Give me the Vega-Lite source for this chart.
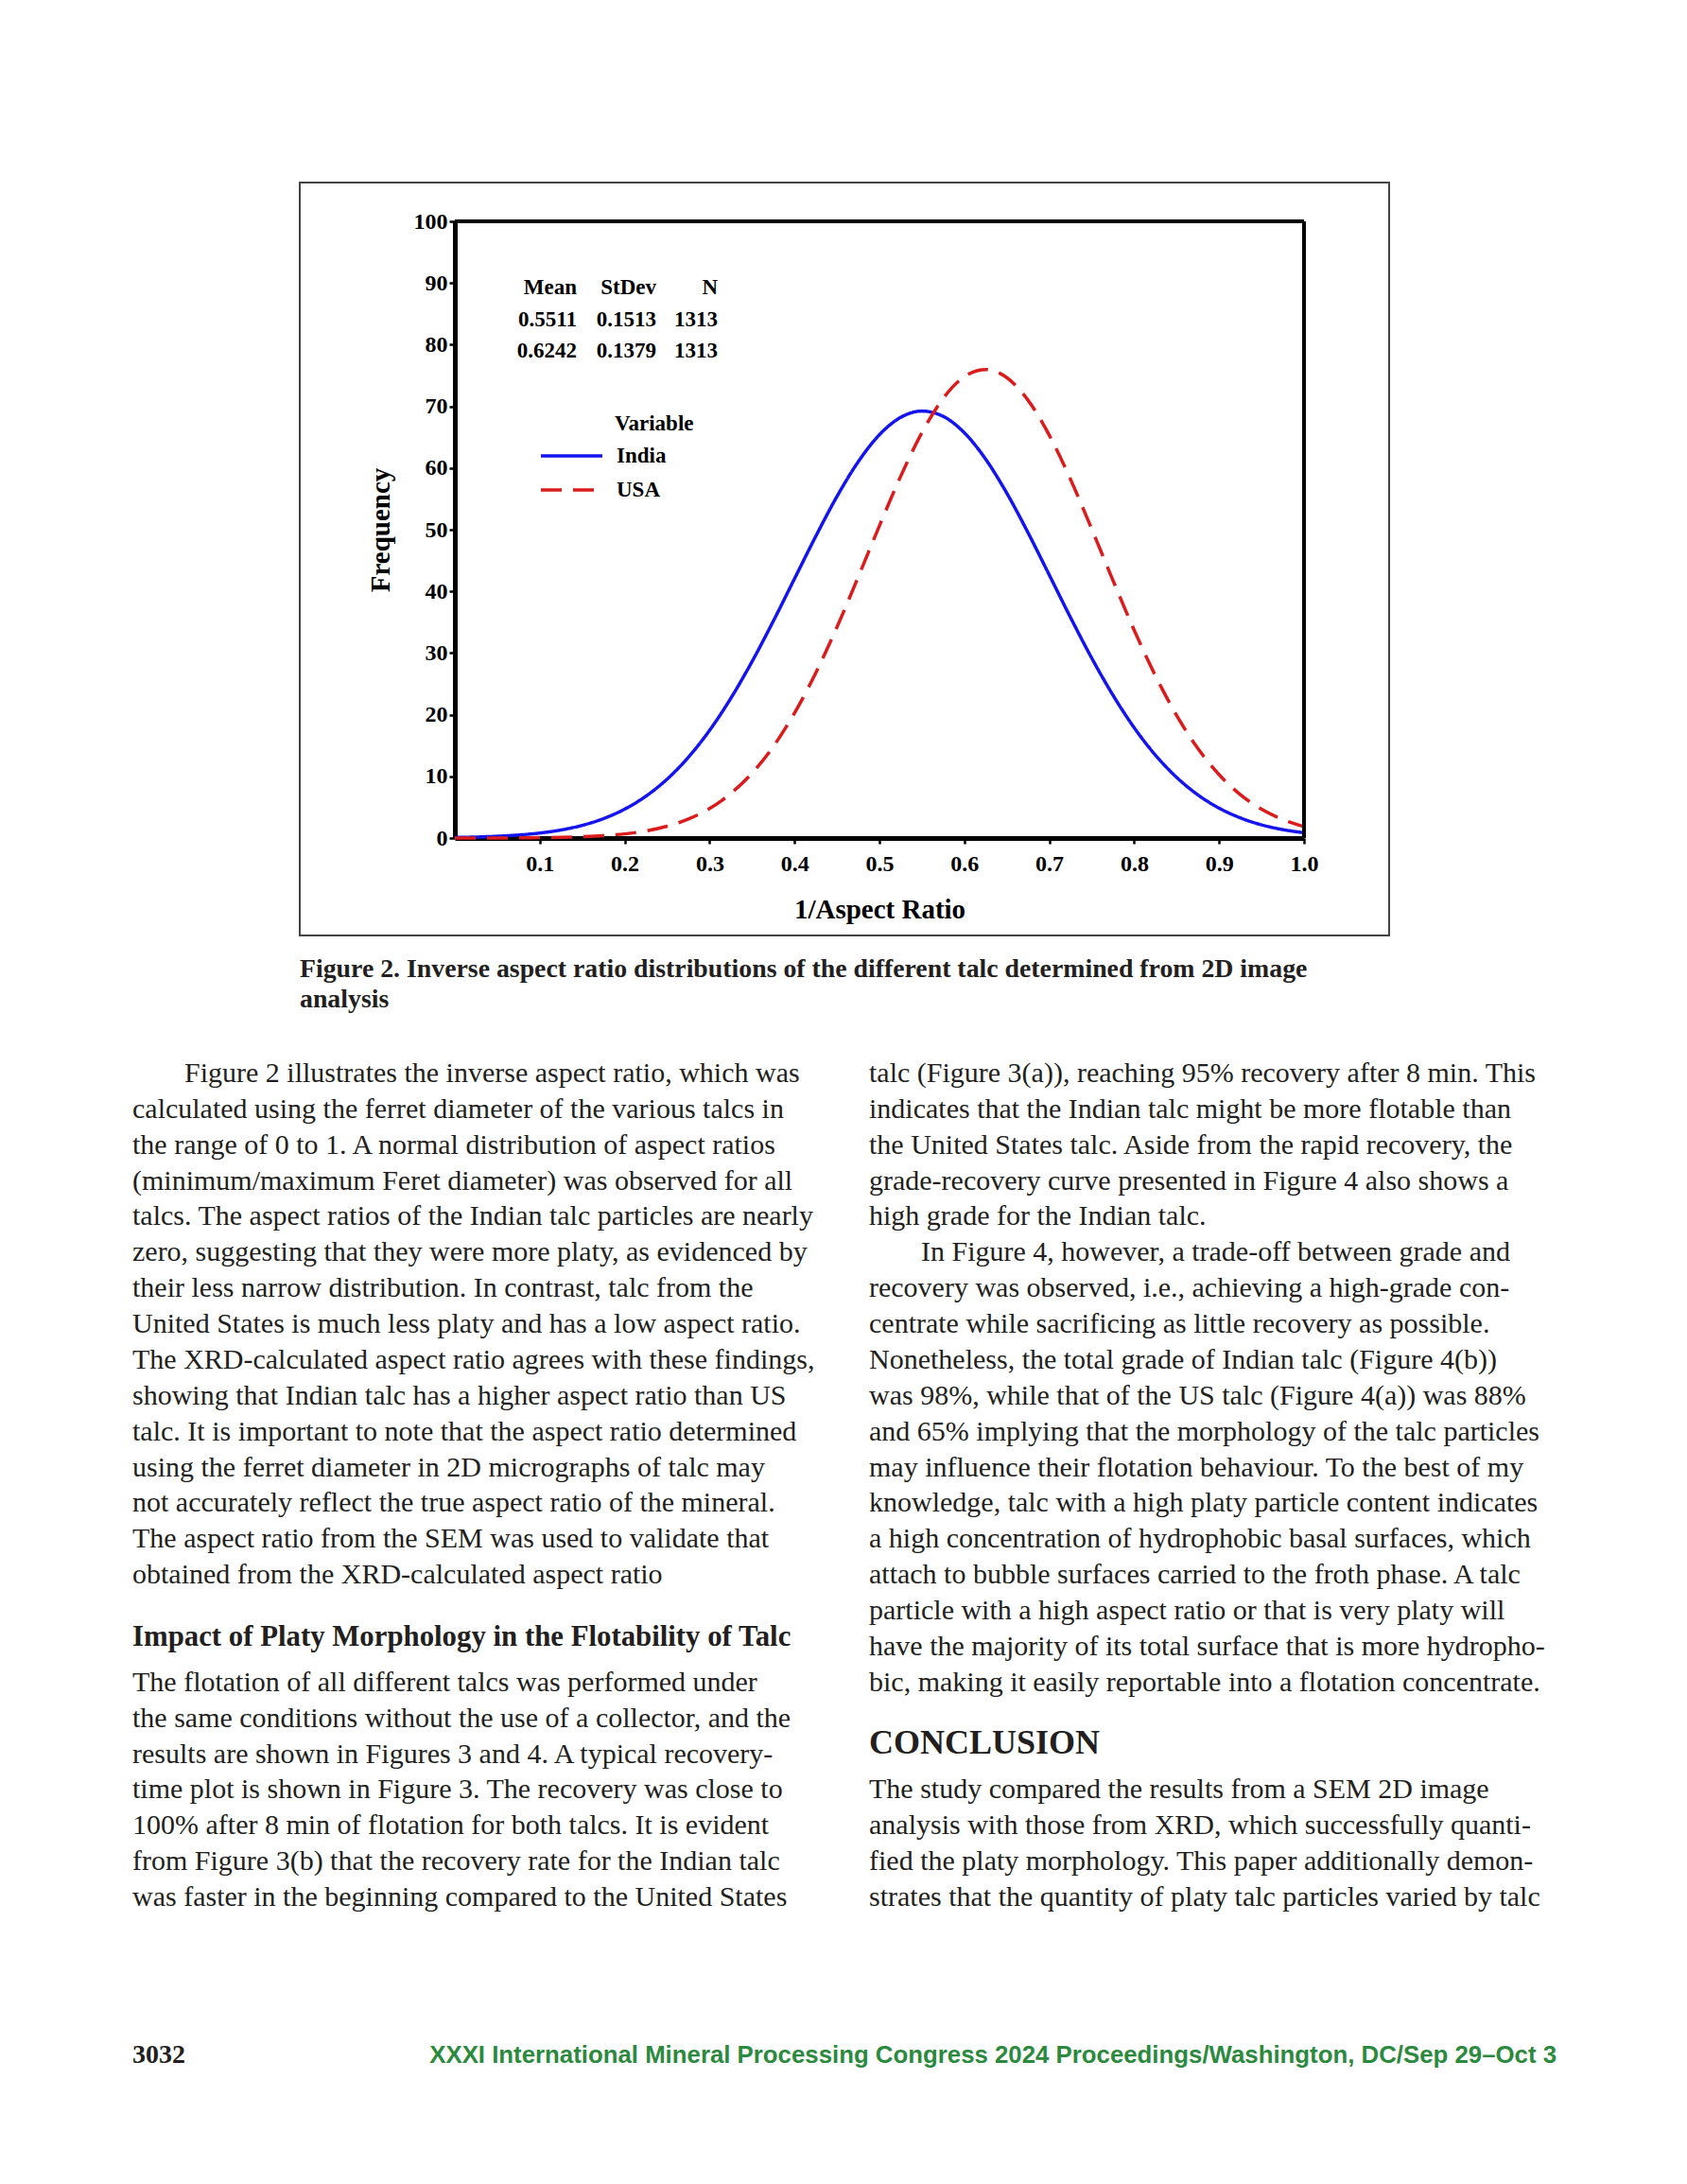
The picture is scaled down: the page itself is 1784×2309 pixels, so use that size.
{
  "$schema": "https://vega.github.io/schema/vega-lite/v6.json",
  "padding": {"left": 140, "top": 192, "right": 138, "bottom": 81},
  "background": "white",
  "config": {"view": {"stroke": null}, "font": "Liberation Serif"},
  "spacing": 97,
  "center": true,
  "bounds": "flush",
  "datasets": {
    "curves": [
      {"ratio": 0, "frequency": 0.09, "Variable": "India"},
      {"ratio": 0.025, "frequency": 0.16, "Variable": "India"},
      {"ratio": 0.05, "frequency": 0.29, "Variable": "India"},
      {"ratio": 0.075, "frequency": 0.49, "Variable": "India"},
      {"ratio": 0.1, "frequency": 0.81, "Variable": "India"},
      {"ratio": 0.125, "frequency": 1.31, "Variable": "India"},
      {"ratio": 0.15, "frequency": 2.06, "Variable": "India"},
      {"ratio": 0.175, "frequency": 3.15, "Variable": "India"},
      {"ratio": 0.2, "frequency": 4.69, "Variable": "India"},
      {"ratio": 0.225, "frequency": 6.79, "Variable": "India"},
      {"ratio": 0.25, "frequency": 9.56, "Variable": "India"},
      {"ratio": 0.275, "frequency": 13.1, "Variable": "India"},
      {"ratio": 0.3, "frequency": 17.47, "Variable": "India"},
      {"ratio": 0.325, "frequency": 22.67, "Variable": "India"},
      {"ratio": 0.35, "frequency": 28.62, "Variable": "India"},
      {"ratio": 0.375, "frequency": 35.17, "Variable": "India"},
      {"ratio": 0.4, "frequency": 42.05, "Variable": "India"},
      {"ratio": 0.425, "frequency": 48.92, "Variable": "India"},
      {"ratio": 0.45, "frequency": 55.39, "Variable": "India"},
      {"ratio": 0.475, "frequency": 61.01, "Variable": "India"},
      {"ratio": 0.5, "frequency": 65.4, "Variable": "India"},
      {"ratio": 0.525, "frequency": 68.21, "Variable": "India"},
      {"ratio": 0.55, "frequency": 69.23, "Variable": "India"},
      {"ratio": 0.575, "frequency": 68.38, "Variable": "India"},
      {"ratio": 0.6, "frequency": 65.71, "Variable": "India"},
      {"ratio": 0.625, "frequency": 61.45, "Variable": "India"},
      {"ratio": 0.65, "frequency": 55.92, "Variable": "India"},
      {"ratio": 0.675, "frequency": 49.51, "Variable": "India"},
      {"ratio": 0.7, "frequency": 42.66, "Variable": "India"},
      {"ratio": 0.725, "frequency": 35.77, "Variable": "India"},
      {"ratio": 0.75, "frequency": 29.18, "Variable": "India"},
      {"ratio": 0.775, "frequency": 23.17, "Variable": "India"},
      {"ratio": 0.8, "frequency": 17.89, "Variable": "India"},
      {"ratio": 0.825, "frequency": 13.45, "Variable": "India"},
      {"ratio": 0.85, "frequency": 9.84, "Variable": "India"},
      {"ratio": 0.875, "frequency": 7.0, "Variable": "India"},
      {"ratio": 0.9, "frequency": 4.85, "Variable": "India"},
      {"ratio": 0.925, "frequency": 3.27, "Variable": "India"},
      {"ratio": 0.95, "frequency": 2.14, "Variable": "India"},
      {"ratio": 0.975, "frequency": 1.37, "Variable": "India"},
      {"ratio": 1.0, "frequency": 0.85, "Variable": "India"},
      {"ratio": 0, "frequency": 0.0, "Variable": "USA"},
      {"ratio": 0.025, "frequency": 0.01, "Variable": "USA"},
      {"ratio": 0.05, "frequency": 0.01, "Variable": "USA"},
      {"ratio": 0.075, "frequency": 0.03, "Variable": "USA"},
      {"ratio": 0.1, "frequency": 0.06, "Variable": "USA"},
      {"ratio": 0.125, "frequency": 0.11, "Variable": "USA"},
      {"ratio": 0.15, "frequency": 0.21, "Variable": "USA"},
      {"ratio": 0.175, "frequency": 0.38, "Variable": "USA"},
      {"ratio": 0.2, "frequency": 0.67, "Variable": "USA"},
      {"ratio": 0.225, "frequency": 1.15, "Variable": "USA"},
      {"ratio": 0.25, "frequency": 1.91, "Variable": "USA"},
      {"ratio": 0.275, "frequency": 3.08, "Variable": "USA"},
      {"ratio": 0.3, "frequency": 4.79, "Variable": "USA"},
      {"ratio": 0.325, "frequency": 7.22, "Variable": "USA"},
      {"ratio": 0.35, "frequency": 10.52, "Variable": "USA"},
      {"ratio": 0.375, "frequency": 14.84, "Variable": "USA"},
      {"ratio": 0.4, "frequency": 20.26, "Variable": "USA"},
      {"ratio": 0.425, "frequency": 26.76, "Variable": "USA"},
      {"ratio": 0.45, "frequency": 34.21, "Variable": "USA"},
      {"ratio": 0.475, "frequency": 42.32, "Variable": "USA"},
      {"ratio": 0.5, "frequency": 50.64, "Variable": "USA"},
      {"ratio": 0.525, "frequency": 58.65, "Variable": "USA"},
      {"ratio": 0.55, "frequency": 65.73, "Variable": "USA"},
      {"ratio": 0.575, "frequency": 71.28, "Variable": "USA"},
      {"ratio": 0.6, "frequency": 74.81, "Variable": "USA"},
      {"ratio": 0.625, "frequency": 75.97, "Variable": "USA"},
      {"ratio": 0.65, "frequency": 74.65, "Variable": "USA"},
      {"ratio": 0.675, "frequency": 70.99, "Variable": "USA"},
      {"ratio": 0.7, "frequency": 65.32, "Variable": "USA"},
      {"ratio": 0.725, "frequency": 58.16, "Variable": "USA"},
      {"ratio": 0.75, "frequency": 50.11, "Variable": "USA"},
      {"ratio": 0.775, "frequency": 41.78, "Variable": "USA"},
      {"ratio": 0.8, "frequency": 33.71, "Variable": "USA"},
      {"ratio": 0.825, "frequency": 26.32, "Variable": "USA"},
      {"ratio": 0.85, "frequency": 19.88, "Variable": "USA"},
      {"ratio": 0.875, "frequency": 14.53, "Variable": "USA"},
      {"ratio": 0.9, "frequency": 10.28, "Variable": "USA"},
      {"ratio": 0.925, "frequency": 7.04, "Variable": "USA"},
      {"ratio": 0.95, "frequency": 4.66, "Variable": "USA"},
      {"ratio": 0.975, "frequency": 2.99, "Variable": "USA"},
      {"ratio": 1.0, "frequency": 1.85, "Variable": "USA"}
    ],
    "stats": [
      {"stat": "Mean", "lines": ["Mean", "0.5511", "0.6242"]},
      {"stat": "StDev", "lines": ["StDev", "0.1513", "0.1379"]},
      {"stat": "N", "lines": ["N", "1313", "1313"]}
    ],
    "body": [
      {"col": "left", "line": 0, "indent": true, "text": "Figure 2 illustrates the inverse aspect ratio, which was"},
      {"col": "left", "line": 1, "indent": false, "text": "calculated using the ferret diameter of the various talcs in"},
      {"col": "left", "line": 2, "indent": false, "text": "the range of 0 to 1. A normal distribution of aspect ratios"},
      {"col": "left", "line": 3, "indent": false, "text": "(minimum/maximum Feret diameter) was observed for all"},
      {"col": "left", "line": 4, "indent": false, "text": "talcs. The aspect ratios of the Indian talc particles are nearly"},
      {"col": "left", "line": 5, "indent": false, "text": "zero, suggesting that they were more platy, as evidenced by"},
      {"col": "left", "line": 6, "indent": false, "text": "their less narrow distribution. In contrast, talc from the"},
      {"col": "left", "line": 7, "indent": false, "text": "United States is much less platy and has a low aspect ratio."},
      {"col": "left", "line": 8, "indent": false, "text": "The XRD-calculated aspect ratio agrees with these findings,"},
      {"col": "left", "line": 9, "indent": false, "text": "showing that Indian talc has a higher aspect ratio than US"},
      {"col": "left", "line": 10, "indent": false, "text": "talc. It is important to note that the aspect ratio determined"},
      {"col": "left", "line": 11, "indent": false, "text": "using the ferret diameter in 2D micrographs of talc may"},
      {"col": "left", "line": 12, "indent": false, "text": "not accurately reflect the true aspect ratio of the mineral."},
      {"col": "left", "line": 13, "indent": false, "text": "The aspect ratio from the SEM was used to validate that"},
      {"col": "left", "line": 14, "indent": false, "text": "obtained from the XRD-calculated aspect ratio"},
      {"col": "left", "line": 17, "indent": false, "text": "The flotation of all different talcs was performed under"},
      {"col": "left", "line": 18, "indent": false, "text": "the same conditions without the use of a collector, and the"},
      {"col": "left", "line": 19, "indent": false, "text": "results are shown in Figures 3 and 4. A typical recovery-"},
      {"col": "left", "line": 20, "indent": false, "text": "time plot is shown in Figure 3. The recovery was close to"},
      {"col": "left", "line": 21, "indent": false, "text": "100% after 8 min of flotation for both talcs. It is evident"},
      {"col": "left", "line": 22, "indent": false, "text": "from Figure 3(b) that the recovery rate for the Indian talc"},
      {"col": "left", "line": 23, "indent": false, "text": "was faster in the beginning compared to the United States"},
      {"col": "right", "line": 0, "indent": false, "text": "talc (Figure 3(a)), reaching 95% recovery after 8 min. This"},
      {"col": "right", "line": 1, "indent": false, "text": "indicates that the Indian talc might be more flotable than"},
      {"col": "right", "line": 2, "indent": false, "text": "the United States talc. Aside from the rapid recovery, the"},
      {"col": "right", "line": 3, "indent": false, "text": "grade-recovery curve presented in Figure 4 also shows a"},
      {"col": "right", "line": 4, "indent": false, "text": "high grade for the Indian talc."},
      {"col": "right", "line": 5, "indent": true, "text": "In Figure 4, however, a trade-off between grade and"},
      {"col": "right", "line": 6, "indent": false, "text": "recovery was observed, i.e., achieving a high-grade con-"},
      {"col": "right", "line": 7, "indent": false, "text": "centrate while sacrificing as little recovery as possible."},
      {"col": "right", "line": 8, "indent": false, "text": "Nonetheless, the total grade of Indian talc (Figure 4(b))"},
      {"col": "right", "line": 9, "indent": false, "text": "was 98%, while that of the US talc (Figure 4(a)) was 88%"},
      {"col": "right", "line": 10, "indent": false, "text": "and 65% implying that the morphology of the talc particles"},
      {"col": "right", "line": 11, "indent": false, "text": "may influence their flotation behaviour. To the best of my"},
      {"col": "right", "line": 12, "indent": false, "text": "knowledge, talc with a high platy particle content indicates"},
      {"col": "right", "line": 13, "indent": false, "text": "a high concentration of hydrophobic basal surfaces, which"},
      {"col": "right", "line": 14, "indent": false, "text": "attach to bubble surfaces carried to the froth phase. A talc"},
      {"col": "right", "line": 15, "indent": false, "text": "particle with a high aspect ratio or that is very platy will"},
      {"col": "right", "line": 16, "indent": false, "text": "have the majority of its total surface that is more hydropho-"},
      {"col": "right", "line": 17, "indent": false, "text": "bic, making it easily reportable into a flotation concentrate."},
      {"col": "right", "line": 20, "indent": false, "text": "The study compared the results from a SEM 2D image"},
      {"col": "right", "line": 21, "indent": false, "text": "analysis with those from XRD, which successfully quanti-"},
      {"col": "right", "line": 22, "indent": false, "text": "fied the platy morphology. This paper additionally demon-"},
      {"col": "right", "line": 23, "indent": false, "text": "strates that the quantity of platy talc particles varied by talc"}
    ],
    "headings": [
      {"col": "left", "line": 16, "text": "Impact of Platy Morphology in the Flotability of Talc"},
      {"col": "right", "line": 19, "text": "CONCLUSION"}
    ],
    "footer": [
      {"part": "page", "text": "3032"},
      {"part": "proceedings", "text": "XXXI International Mineral Processing Congress 2024 Proceedings/Washington, DC/Sep 29–Oct 3"}
    ]
  },
  "vconcat": [
    {
      "width": 1152,
      "height": 796,
      "view": {"stroke": "#444444", "strokeWidth": 2},
      "title": {
        "text": ["Figure 2. Inverse aspect ratio distributions of the different talc determined from 2D image", "analysis"],
        "orient": "bottom",
        "anchor": "start",
        "frame": "group",
        "offset": 22,
        "font": "Liberation Serif",
        "fontSize": 27.8,
        "fontWeight": "bold",
        "color": "#231f20",
        "lineHeight": 32
      },
      "layer": [
        {
          "data": {"name": "curves"},
          "mark": {"type": "line", "strokeWidth": 3.5, "interpolate": "monotone"},
          "encoding": {
            "x": {
              "field": "ratio",
              "type": "quantitative",
              "scale": {"domain": [0, 1], "range": [164, 1062], "nice": false, "zero": false},
              "axis": {
                "title": "1/Aspect Ratio",
                "values": [0.1, 0.2, 0.3, 0.4, 0.5, 0.6, 0.7, 0.8, 0.9, 1.0],
                "format": ".1f",
                "offset": -103,
                "grid": false,
                "domainColor": "black",
                "domainWidth": 5,
                "tickColor": "black",
                "tickWidth": 2.5,
                "tickSize": 6,
                "labelFont": "Liberation Serif",
                "labelFontWeight": "bold",
                "labelFontSize": 24,
                "labelColor": "black",
                "labelPadding": 9,
                "labelFlush": false,
                "labelOverlap": false,
                "titleFont": "Liberation Serif",
                "titleFontWeight": "bold",
                "titleFontSize": 29,
                "titleColor": "black",
                "titlePadding": 22
              }
            },
            "y": {
              "field": "frequency",
              "type": "quantitative",
              "scale": {"domain": [0, 100], "range": [693, 41], "nice": false, "zero": false},
              "axis": {
                "title": "Frequency",
                "values": [0, 10, 20, 30, 40, 50, 60, 70, 80, 90, 100],
                "format": "d",
                "offset": -164,
                "grid": false,
                "domainColor": "black",
                "domainWidth": 5,
                "tickColor": "black",
                "tickWidth": 2.5,
                "tickSize": 6,
                "labelFont": "Liberation Serif",
                "labelFontWeight": "bold",
                "labelFontSize": 24,
                "labelColor": "black",
                "labelPadding": 2,
                "labelFlush": false,
                "labelOverlap": false,
                "titleFont": "Liberation Serif",
                "titleFontWeight": "bold",
                "titleFontSize": 29,
                "titleColor": "black",
                "titlePadding": 20
              }
            },
            "color": {
              "field": "Variable",
              "type": "nominal",
              "scale": {"domain": ["India", "USA"], "range": ["#1414f0", "#dc1c1c"]},
              "legend": {
                "title": "Variable",
                "orient": "none",
                "legendX": 430,
                "legendY": 244,
                "padding": 0,
                "titleFont": "Liberation Serif",
                "titleFontWeight": "bold",
                "titleFontSize": 23,
                "titleColor": "black",
                "titlePadding": 12,
                "titleAnchor": "middle",
                "titleAlign": "left",
                "labelFont": "Liberation Serif",
                "labelFontWeight": "bold",
                "labelFontSize": 23,
                "labelColor": "black",
                "labelOffset": 13,
                "symbolType": "stroke",
                "symbolSize": 4225,
                "symbolStrokeWidth": 3.5,
                "clipHeight": 20,
                "rowPadding": 13,
                "encode": {"title": {"update": {"dx": {"value": 13}}}}
              }
            },
            "strokeDash": {
              "field": "Variable",
              "type": "nominal",
              "scale": {"domain": ["India", "USA"], "range": [[1, 0], [22, 12]]},
              "legend": {
                "title": "Variable",
                "orient": "none",
                "legendX": 430,
                "legendY": 244,
                "padding": 0,
                "titleFont": "Liberation Serif",
                "titleFontWeight": "bold",
                "titleFontSize": 23,
                "titleColor": "black",
                "titlePadding": 12,
                "titleAnchor": "middle",
                "titleAlign": "left",
                "labelFont": "Liberation Serif",
                "labelFontWeight": "bold",
                "labelFontSize": 23,
                "labelColor": "black",
                "labelOffset": 13,
                "symbolType": "stroke",
                "symbolSize": 4225,
                "symbolStrokeWidth": 3.5,
                "clipHeight": 20,
                "rowPadding": 13,
                "encode": {"title": {"update": {"dx": {"value": 13}}}}
              }
            }
          }
        },
        {
          "data": {"values": [{}]},
          "mark": {"type": "rule", "color": "black", "strokeWidth": 4},
          "encoding": {
            "x": {"datum": 0},
            "x2": {"datum": 1},
            "y": {"datum": 100}
          }
        },
        {
          "data": {"values": [{}]},
          "mark": {"type": "rule", "color": "black", "strokeWidth": 4},
          "encoding": {
            "x": {"datum": 1},
            "y": {"datum": 0},
            "y2": {"datum": 100}
          }
        },
        {
          "data": {"name": "stats"},
          "transform": [{"filter": "datum.stat == 'Mean'"}],
          "mark": {"type": "text", "align": "right", "baseline": "middle", "lineHeight": 33.5, "font": "Liberation Serif", "fontWeight": "bold", "fontSize": 23, "color": "black"},
          "encoding": {
            "x": {"datum": 0.1437},
            "y": {"datum": 89.26},
            "text": {"field": "lines", "type": "nominal"}
          }
        },
        {
          "data": {"name": "stats"},
          "transform": [{"filter": "datum.stat == 'StDev'"}],
          "mark": {"type": "text", "align": "right", "baseline": "middle", "lineHeight": 33.5, "font": "Liberation Serif", "fontWeight": "bold", "fontSize": 23, "color": "black"},
          "encoding": {
            "x": {"datum": 0.2373},
            "y": {"datum": 89.26},
            "text": {"field": "lines", "type": "nominal"}
          }
        },
        {
          "data": {"name": "stats"},
          "transform": [{"filter": "datum.stat == 'N'"}],
          "mark": {"type": "text", "align": "right", "baseline": "middle", "lineHeight": 33.5, "font": "Liberation Serif", "fontWeight": "bold", "fontSize": 23, "color": "black"},
          "encoding": {
            "x": {"datum": 0.3097},
            "y": {"datum": 89.26},
            "text": {"field": "lines", "type": "nominal"}
          }
        }
      ]
    },
    {
      "width": 1506,
      "height": 950,
      "layer": [
        {
          "data": {"name": "body"},
          "transform": [{"filter": "!datum.indent"}],
          "mark": {"type": "text", "align": "left", "baseline": "alphabetic", "font": "Liberation Serif", "fontSize": 30, "color": "#231f20"},
          "encoding": {
            "x": {"field": "col", "type": "nominal", "scale": {"type": "point", "domain": ["left", "right"], "range": [0, 779], "padding": 0}, "axis": null},
            "y": {"field": "line", "type": "quantitative", "scale": {"domain": [0, 23], "range": [58, 929], "nice": false, "zero": false}, "axis": null},
            "text": {"field": "text"}
          }
        },
        {
          "data": {"name": "body"},
          "transform": [{"filter": "datum.indent"}],
          "mark": {"type": "text", "align": "left", "baseline": "alphabetic", "font": "Liberation Serif", "fontSize": 30, "color": "#231f20", "dx": 55},
          "encoding": {
            "x": {"field": "col", "type": "nominal", "scale": {"type": "point", "domain": ["left", "right"], "range": [0, 779], "padding": 0}, "axis": null},
            "y": {"field": "line", "type": "quantitative", "scale": {"domain": [0, 23], "range": [58, 929], "nice": false, "zero": false}, "axis": null},
            "text": {"field": "text"}
          }
        },
        {
          "data": {"name": "headings"},
          "transform": [{"filter": "datum.col == 'left'"}],
          "mark": {"type": "text", "align": "left", "baseline": "alphabetic", "font": "Liberation Serif", "fontWeight": "bold", "fontSize": 30.8, "color": "#231f20", "dy": -10},
          "encoding": {
            "x": {"field": "col", "type": "nominal", "scale": {"type": "point", "domain": ["left", "right"], "range": [0, 779], "padding": 0}, "axis": null},
            "y": {"field": "line", "type": "quantitative", "scale": {"domain": [0, 23], "range": [58, 929], "nice": false, "zero": false}, "axis": null},
            "text": {"field": "text"}
          }
        },
        {
          "data": {"name": "headings"},
          "transform": [{"filter": "datum.col == 'right'"}],
          "mark": {"type": "text", "align": "left", "baseline": "alphabetic", "font": "Liberation Serif", "fontWeight": "bold", "fontSize": 36, "color": "#231f20", "dy": -10},
          "encoding": {
            "x": {"field": "col", "type": "nominal", "scale": {"type": "point", "domain": ["left", "right"], "range": [0, 779], "padding": 0}, "axis": null},
            "y": {"field": "line", "type": "quantitative", "scale": {"domain": [0, 23], "range": [58, 929], "nice": false, "zero": false}, "axis": null},
            "text": {"field": "text"}
          }
        }
      ]
    },
    {
      "width": 1506,
      "height": 96,
      "data": {"name": "footer"},
      "layer": [
        {
          "transform": [{"filter": "datum.part == 'page'"}],
          "mark": {"type": "text", "align": "left", "baseline": "alphabetic", "font": "Liberation Serif", "fontWeight": "bold", "fontSize": 28, "color": "#231f20"},
          "encoding": {
            "x": {"field": "part", "type": "nominal", "scale": {"type": "point", "domain": ["page", "proceedings"], "range": [0, 1506], "padding": 0}, "axis": null},
            "text": {"field": "text"}
          }
        },
        {
          "transform": [{"filter": "datum.part == 'proceedings'"}],
          "mark": {"type": "text", "align": "right", "baseline": "alphabetic", "font": "Liberation Sans", "fontWeight": "bold", "fontSize": 25.8, "color": "#2b8a3e"},
          "encoding": {
            "x": {"field": "part", "type": "nominal", "scale": {"type": "point", "domain": ["page", "proceedings"], "range": [0, 1506], "padding": 0}, "axis": null},
            "text": {"field": "text"}
          }
        }
      ]
    }
  ]
}
